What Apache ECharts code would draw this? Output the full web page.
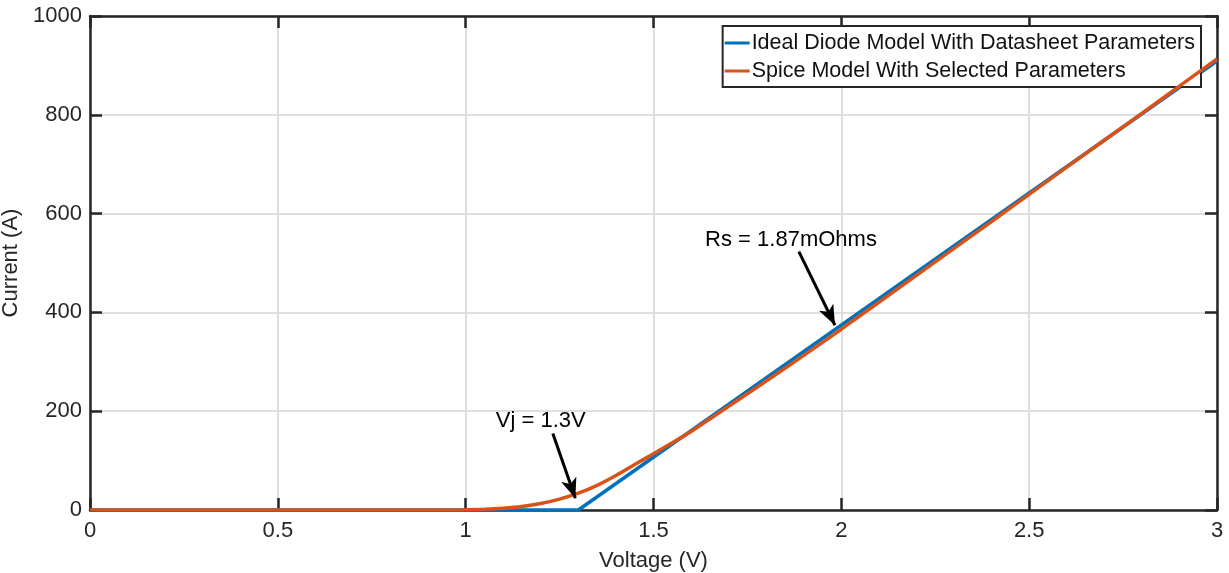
<!DOCTYPE html>
<html>
<head>
<meta charset="utf-8">
<script src="https://cdn.jsdelivr.net/npm/echarts@6/dist/echarts.min.js"></script>
<style>
html,body{margin:0;padding:0;background:#fff;}
#chart{width:1229px;height:573px;}
</style>
</head>
<body>
<div id="chart"></div>
<script>
// ---- data ----
var xTicks = [0, 0.5, 1, 1.5, 2, 2.5, 3];
var yTicks = [0, 200, 400, 600, 800, 1000];

var idealVoltage = [0, 1.3, 3.0];
var idealCurrent = [0, 0, 909];

var spiceVoltage = [0, 0.5, 0.9, 1.0, 1.05, 1.1, 1.15, 1.2, 1.25, 1.3, 1.35, 1.4, 1.45, 1.5, 1.55, 1.6, 1.7, 1.8, 1.9, 2.0, 2.2, 2.4, 2.6, 2.8, 2.9, 3.0];
var spiceCurrent = [0, 0, 0, 0.5, 1.5, 3.5, 7, 13, 22, 34, 50, 70, 92, 114, 136, 159, 210, 261, 313, 366, 475, 584, 694, 803, 858, 913];

var seriesNames = ['Ideal Diode Model With Datasheet Parameters', 'Spice Model With Selected Parameters'];

var annotationTexts = ['Vj = 1.3V', 'Rs = 1.87mOhms'];
var annotationTextPos = [[1.2, 180], [1.866, 547]];
var arrowStart = [[1.232, 155], [1.887, 523]];
var arrowEnd = [[1.292, 24], [1.983, 374]];

function pairs(xs, ys) { return xs.map(function (x, i) { return [x, ys[i]]; }); }

var chart = echarts.init(document.getElementById('chart'));
var FONT = 'Liberation Sans, Arial, sans-serif';
var DARK = '#262626';
var FS = 22;

var xCommon = {
  type: 'value', min: 0, max: 3, interval: 0.5,
  axisLine: { show: true, onZero: false, lineStyle: { color: DARK, width: 2.5 } },
  axisTick: { show: true, inside: true, length: 12, lineStyle: { color: DARK, width: 2.5 } },
  splitLine: { show: false }
};
var yCommon = {
  type: 'value', min: 0, max: 1000, interval: 200,
  axisLine: { show: true, onZero: false, lineStyle: { color: DARK, width: 2.5 } },
  axisTick: { show: true, inside: true, length: 12, lineStyle: { color: DARK, width: 2.5 } },
  splitLine: { show: false }
};

var option = {
  backgroundColor: '#fff',
  animation: false,
  grid: { left: 90, right: 12, top: 16, bottom: 63, containLabel: false, outerBoundsMode: 'none' },
  legend: {
    data: seriesNames,
    orient: 'vertical',
    right: 28, top: 26,
    backgroundColor: '#fff',
    borderColor: DARK, borderWidth: 2,
    padding: [6, 6, 5, 2],
    itemGap: 6,
    itemWidth: 25, itemHeight: 3,
    icon: 'rect',
    textStyle: { fontFamily: FONT, fontSize: 21.5, color: '#111', padding: [0, 0, 0, -3] }
  },
  xAxis: [
    Object.assign({}, xCommon, {
      position: 'bottom',
      name: 'Voltage (V)', nameLocation: 'middle', nameGap: 40,
      nameTextStyle: { fontFamily: FONT, fontSize: FS, color: DARK },
      axisLabel: { fontFamily: FONT, fontSize: FS, color: DARK, margin: 10,
        formatter: function (v) { return String(v); } },
      splitLine: { show: true, lineStyle: { color: '#dfdfdf', width: 2 } }
    }),
    Object.assign({}, xCommon, { position: 'top', axisLabel: { show: false } })
  ],
  yAxis: [
    Object.assign({}, yCommon, {
      position: 'left',
      name: 'Current (A)', nameLocation: 'middle', nameGap: 64,
      nameTextStyle: { fontFamily: FONT, fontSize: FS, color: DARK },
      axisLabel: { fontFamily: FONT, fontSize: FS, color: DARK, margin: 8,
        formatter: function (v) { return String(v); } },
      splitLine: { show: true, lineStyle: { color: '#dfdfdf', width: 2 } }
    }),
    Object.assign({}, yCommon, { position: 'right', axisLabel: { show: false } })
  ],
  series: [
    {
      name: seriesNames[0], type: 'line', data: pairs(idealVoltage, idealCurrent),
      showSymbol: false, color: '#0072BD',
      lineStyle: { width: 3.5, color: '#0072BD' }, z: 3
    },
    {
      name: seriesNames[1], type: 'line', data: pairs(spiceVoltage, spiceCurrent),
      showSymbol: false, smooth: 0.2, color: '#D95319',
      lineStyle: { width: 3.5, color: '#D95319' }, z: 4
    },
    {
      name: 'annotations', type: 'scatter', symbolSize: 1, z: 6,
      itemStyle: { opacity: 0 },
      data: annotationTextPos.map(function (p, i) {
        return { value: p };
      }),
      label: { show: true, position: 'inside', fontFamily: FONT, fontSize: FS, color: '#000',
        opacity: 1,
        formatter: function (p) { return annotationTexts[p.dataIndex]; } },
      markLine: {
        silent: true, symbol: ['none', 'arrow'], symbolSize: [12, 20],
        lineStyle: { color: '#000', width: 3, type: 'solid', opacity: 1 },
        label: { show: false },
        data: arrowStart.map(function (s, i) {
          return [{ coord: s }, { coord: arrowEnd[i] }];
        })
      }
    }
  ]
};
chart.setOption(option);
</script>
</body>
</html>
